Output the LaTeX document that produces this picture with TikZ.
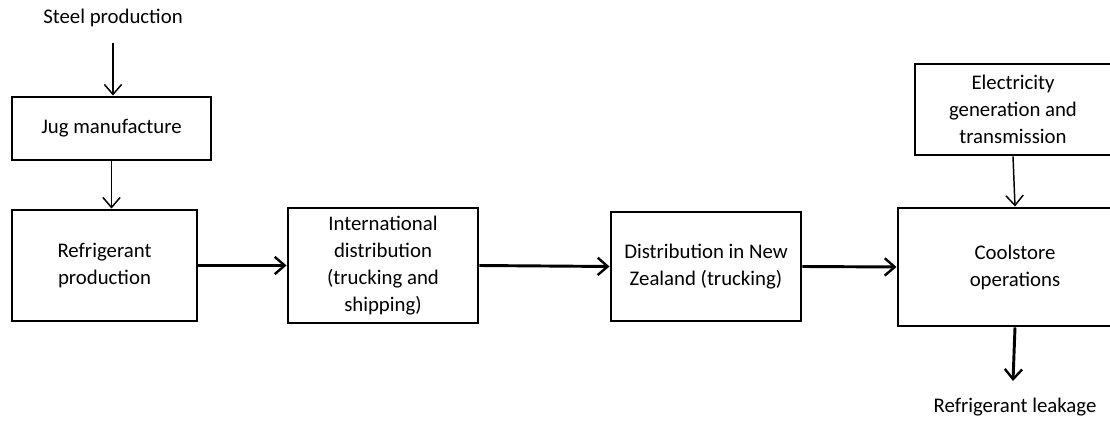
\documentclass[tikz,border=0pt]{standalone}
\usepackage{fontspec}
\setmainfont{Carlito}
\usetikzlibrary{arrows.meta,calc}
\begin{document}
\begin{tikzpicture}[x=0.75pt,y=-0.75pt,
  box/.style={draw,line width=2.2pt,align=center,inner sep=0pt,
    font=\fontsize{15.6pt}{20.2pt}\selectfont},
  lbl/.style={align=center,inner sep=0pt,font=\fontsize{15.6pt}{20.2pt}\selectfont},
  thin/.style={line width=1.1pt,-{Straight Barb[length=7.5pt,width=13pt,line width=1.1pt]}},
  thick/.style={line width=2.2pt,-{Straight Barb[length=7.5pt,width=13pt,line width=1.8pt]}}]
\useasboundingbox (0,0) rectangle (1110,423);
\clip (0,0) rectangle (1110,423);
\node[lbl] (steel) at (113,18) {Steel production};
\node[box,minimum width=199*0.75pt,minimum height=63*0.75pt] (jug) at (111.5,128.5) {Jug manufacture};
\node[box,minimum width=185*0.75pt,minimum height=111*0.75pt] (ref) at (104.5,265.5) {Refrigerant\\production};
\node[box,minimum width=190*0.75pt,minimum height=115*0.75pt] (intl) at (383,265.5) {International\\distribution\\(trucking and\\shipping)};
\node[box,minimum width=190*0.75pt,minimum height=109*0.75pt] (nz) at (706,266.5) {Distribution in New\\Zealand (trucking)};
\node[box,minimum width=234*0.75pt,minimum height=118*0.75pt] (cool) at (1015,267) {Coolstore\\operations};
\node[box,minimum width=196*0.75pt,minimum height=91*0.75pt] (elec) at (1013,109.5) {Electricity\\generation and\\transmission};
\node[lbl] (leak) at (1015,407) {Refrigerant leakage};
\coordinate (steelend) at (113,43);
\coordinate (leakend) at (1013,381);
\draw[thin] (steelend) -- (steelend |- jug.north);
\draw[thin] (jug.south) -- (jug.south |- ref.north);
\draw[thick] (ref.east) -- (intl.west);
\draw[thick] (intl.east) -- (nz.west);
\draw[thick] (nz.east) -- (cool.west);
\draw[thin] (elec.south) -- (cool.north);
\draw[thick] (cool.south) -- (leakend);
\end{tikzpicture}
\end{document}
